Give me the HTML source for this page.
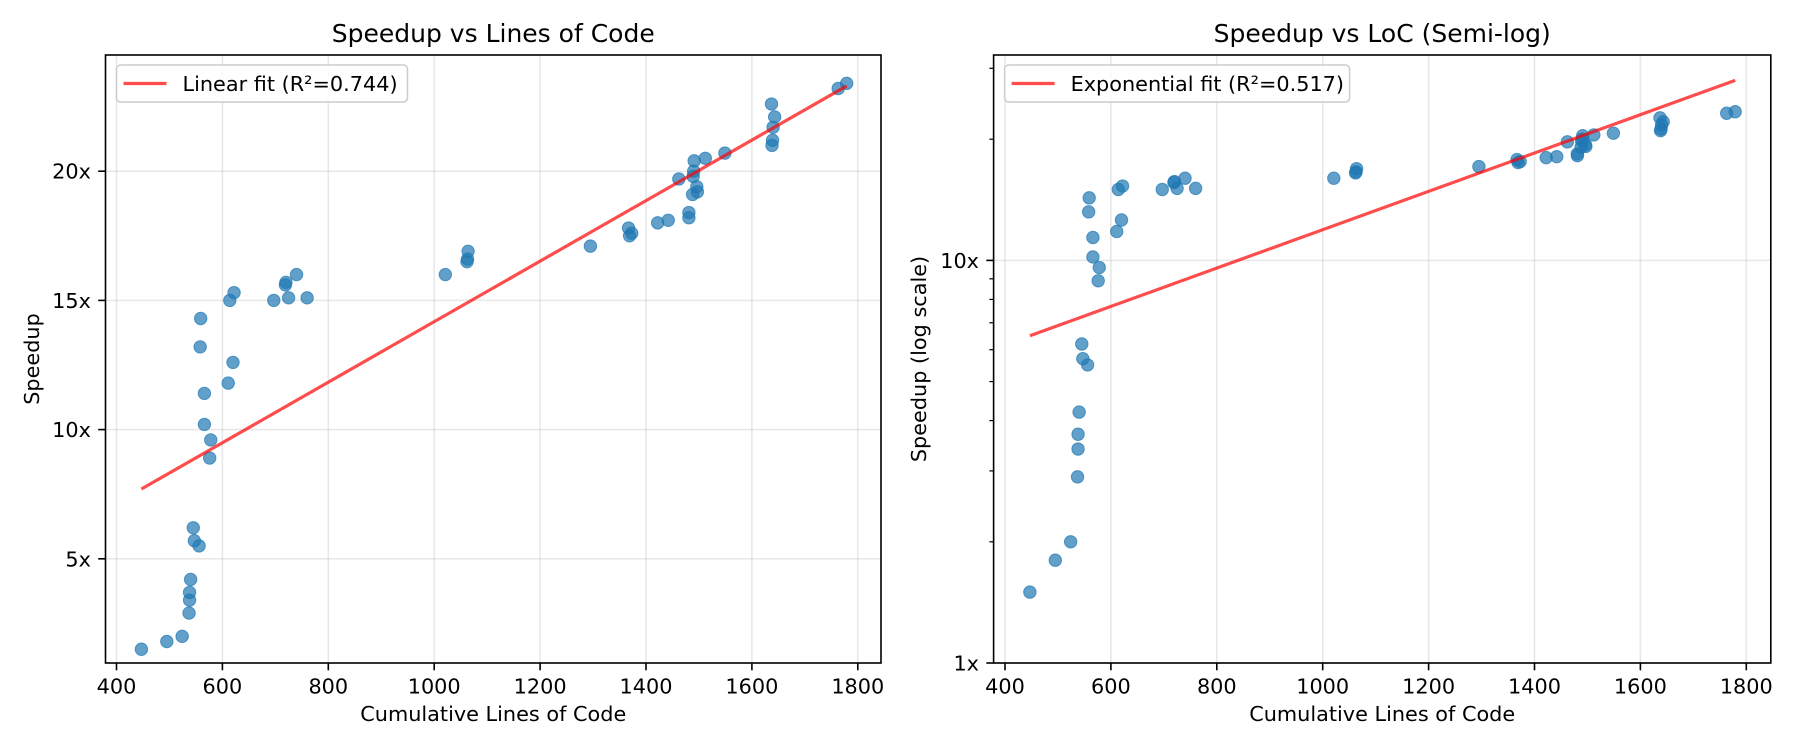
<!DOCTYPE html>
<html><head><meta charset="utf-8"><style>
html,body{margin:0;padding:0;background:#fff;}
svg{display:block;font-family:"DejaVu Sans","Liberation Sans",sans-serif;}
</style></head><body>
<svg id="fig" width="1800" height="750" viewBox="0 0 1800 750" xmlns="http://www.w3.org/2000/svg">
<rect width="1800" height="750" fill="#fff"/>
<g id="left"></g>
<g id="right"></g>
</svg>
<script>
const loc = [447,495,524,537,538,538,540,545,547,556,558,559,566,566,576,578,611,614,620,622,697,719,720,725,740,760,1021,1062,1063,1064,1295,1367,1369,1373,1422,1442,1462,1481,1481,1488,1489,1490,1491,1496,1497,1512,1549,1637,1638,1639,1640,1643,1763,1779];
const speedup = [1.5,1.8,2.0,2.9,3.4,3.7,4.2,6.2,5.7,5.5,13.2,14.3,11.4,10.2,8.9,9.6,11.8,15.0,12.6,15.3,15.0,15.6,15.7,15.1,16.0,15.1,16.0,16.5,16.6,16.9,17.1,17.8,17.5,17.6,18.0,18.1,19.7,18.4,18.2,19.1,19.8,20.0,20.4,19.4,19.2,20.5,20.7,22.6,21.0,21.2,21.7,22.1,23.2,23.4];
const fitX = [447,1779];
const linearFitY = [7.7,23.3];
const expFitY = [6.5,28.0];
const xTicks = [400,600,800,1000,1200,1400,1600,1800];
const yTicksLin = [5,10,15,20];
const yTicksLog = [1,10];
const yMinorLog = [2,3,4,5,6,7,8,9,20,30];

const NS="http://www.w3.org/2000/svg";
function el(parent,tag,attrs,text){const e=document.createElementNS(NS,tag);for(const k in attrs)e.setAttribute(k,attrs[k]);if(text!==undefined)e.textContent=text;parent.appendChild(e);return e;}

const TOP=55,BOT=663;
function xScaleFor(x0){return v=>x0+(v-400)*0.5295;}

function drawPanel(g,opt){
  const sx=opt.sx, sy=opt.sy, L=opt.L, R=opt.R;
  xTicks.forEach(t=>{const x=sx(t);
    const gl=el(g,'line',{x1:x,x2:x,y1:TOP,y2:BOT,stroke:'#b0b0b0','stroke-opacity':0.3,'stroke-width':1.5});
    
    
  });
  opt.yTicks.forEach(t=>{const y=sy(t);
    const gl=el(g,'line',{x1:L,x2:R,y1:y,y2:y,stroke:'#b0b0b0','stroke-opacity':0.3,'stroke-width':1.5});
    
    
  });
  loc.forEach((v,i)=>{
    const c=el(g,'circle',{cx:sx(v),cy:sy(speedup[i]),r:6.2,fill:'#1f77b4','fill-opacity':0.7,stroke:'#1f77b4','stroke-opacity':0.7,'stroke-width':1});
    
    
  });
  const fl=el(g,'line',{x1:sx(fitX[0]),y1:sy(opt.fitY[0]),x2:sx(fitX[1]),y2:sy(opt.fitY[1]),stroke:'#ff0000','stroke-opacity':0.7,'stroke-width':3.2});
  
  
  const sp=el(g,'rect',{x:L,y:TOP,width:R-L,height:BOT-TOP,fill:'none',stroke:'#000','stroke-width':1.6});
  
  
  xTicks.forEach(t=>{const x=sx(t);
    el(g,'line',{x1:x,x2:x,y1:BOT,y2:BOT+7.3,stroke:'#000','stroke-width':1.6});
    const tl=el(g,'text',{x:x,y:693.5,'text-anchor':'middle','font-size':20.8,fill:'#000'},String(t));
    
    
  });
  opt.yTicks.forEach(t=>{const y=sy(t);
    el(g,'line',{x1:L-7.3,x2:L,y1:y,y2:y,stroke:'#000','stroke-width':1.6});
    const tl=el(g,'text',{x:L-14.6,y:y+7.5,'text-anchor':'end','font-size':20.8,fill:'#000'},t+'x');
    
    
  });
  (opt.minor||[]).forEach(t=>{const y=sy(t);
    el(g,'line',{x1:L-4.2,x2:L,y1:y,y2:y,stroke:'#000','stroke-width':1.2});
  });
  const xl=el(g,'text',{x:(L+R)/2,y:721,'text-anchor':'middle','font-size':20.8,fill:'#000'},'Cumulative Lines of Code');
  
  
  const yl=el(g,'text',{x:0,y:0,'text-anchor':'middle','font-size':20.8,fill:'#000',transform:`translate(${opt.ylx},${(TOP+BOT)/2}) rotate(-90)`},opt.ylabel);
  
  
  const tt=el(g,'text',{x:(L+R)/2,y:42,'text-anchor':'middle','font-size':25,fill:'#000'},opt.title);
  
  
  const lg=el(g,'g',{});
  
  
  el(lg,'rect',{x:L+11,y:65,width:opt.legW,height:37,rx:4,fill:'#fff','fill-opacity':0.8,stroke:'#cccccc','stroke-width':1.5});
  el(lg,'line',{x1:L+18,x2:L+61,y1:83.5,y2:83.5,stroke:'#ff0000','stroke-opacity':0.7,'stroke-width':3.2});
  const lt=el(lg,'text',{x:L+77,y:91,'font-size':20.8,fill:'#000'},opt.legend);
  
  
}

const sxL=xScaleFor(116.5);
const syL=v=>688-25.84*v;
drawPanel(document.getElementById('left'),{sx:sxL,sy:syL,L:105.5,R:881,yTicks:yTicksLin,fitY:linearFitY,
  ylabel:'Speedup',ylx:39,title:'Speedup vs Lines of Code',legend:'Linear fit (R\u00b2=0.744)',legW:291});

const sxR=xScaleFor(1005);
const syR=v=>663-402.6*Math.log10(v);
drawPanel(document.getElementById('right'),{sx:sxR,sy:syR,L:993.6,R:1770.8,yTicks:yTicksLog,minor:yMinorLog,fitY:expFitY,
  ylabel:'Speedup (log scale)',ylx:926,title:'Speedup vs LoC (Semi-log)',legend:'Exponential fit (R\u00b2=0.517)',legW:345});
</script>
</body></html>
